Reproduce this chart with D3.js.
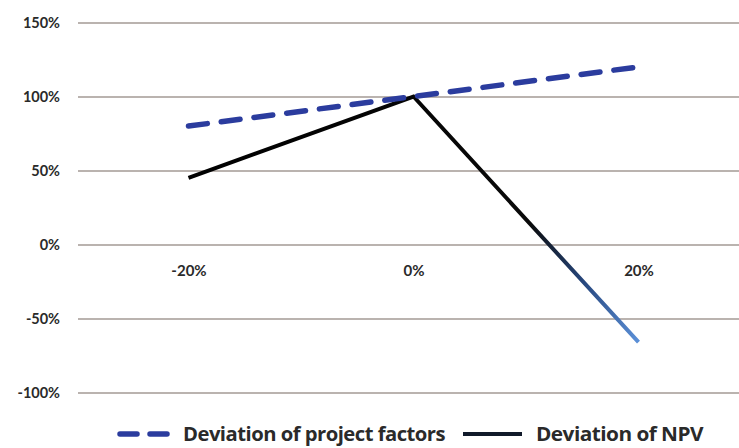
<!DOCTYPE html>
<html>
<head>
<meta charset="utf-8">
<script src="https://cdn.jsdelivr.net/npm/d3@7"></script>
<style>
  html, body { margin: 0; padding: 0; background: #fff; }
  svg { display: block; }
  text { font-family: Lato, "Open Sans", sans-serif; font-weight: 700; fill: #2a2a2a; }
</style>
</head>
<body>
<svg id="chart" width="739" height="448"></svg>
<script>
const categories = ["-20%", "0%", "20%"];
const projectFactors = [80, 100, 120];
const npv = [45, 100, -66];
const yTicks = [150, 100, 50, 0, -50, -100];
const seriesNames = ["Deviation of project factors", "Deviation of NPV"];

const W = 739, H = 448;
const svg = d3.select("#chart");

const x = d3.scalePoint().domain(categories).range([76, 751]).padding(0.5);
const y = d3.scaleLinear().domain([-100, 150]).range([392.5, 22.5]);

// gridlines
const yAxis = d3.axisLeft(y).tickValues(yTicks).tickSize(-(W - 78)).tickFormat(d => d + "%");
const gy = svg.append("g").attr("transform", "translate(78,0)").call(yAxis);
gy.select(".domain").remove();
gy.selectAll(".tick line").attr("stroke", "#a39a94").attr("stroke-width", 1.6);
gy.selectAll(".tick text").attr("x", -18).attr("font-size", 14.5).style("fill", "#2a2a2a");

// category axis labels (below zero line)
const xAxis = d3.axisBottom(x).tickSize(0).tickPadding(0);
const gx = svg.append("g").attr("transform", `translate(0,${y(0)})`).call(xAxis);
gx.select(".domain").remove();
gx.selectAll(".tick text").attr("dy", null).attr("y", 31).attr("font-size", 15).style("fill", "#2a2a2a");

// gradient for NPV line's last segment
const defs = svg.append("defs");
const grad = defs.append("linearGradient").attr("id", "npvGrad")
  .attr("gradientUnits", "userSpaceOnUse")
  .attr("x1", x(categories[0])).attr("y1", y(npv[0]))
  .attr("x2", x(categories[2])).attr("y2", y(npv[2]));
grad.append("stop").attr("offset", "0%").attr("stop-color", "#000");
grad.append("stop").attr("offset", "70%").attr("stop-color", "#0a0a0a");
grad.append("stop").attr("offset", "85%").attr("stop-color", "#27477e");
grad.append("stop").attr("offset", "100%").attr("stop-color", "#5b90d8");

const line = d3.line().x((d, i) => x(categories[i])).y(d => y(d));

svg.append("path").datum(npv).attr("d", line)
  .attr("fill", "none").attr("stroke", "url(#npvGrad)").attr("stroke-width", 4)
  .attr("stroke-linejoin", "miter");

svg.append("path").datum(projectFactors).attr("d", line)
  .attr("fill", "none").attr("stroke", "#2b3c9e").attr("stroke-width", 5.5)
  .attr("stroke-dasharray", "19,14").attr("stroke-linecap", "round");

// legend
const lg = svg.append("g");
lg.append("line").attr("x1", 120).attr("x2", 168).attr("y1", 434).attr("y2", 434)
  .attr("stroke", "#2b3c9e").attr("stroke-width", 5.5).attr("stroke-dasharray", "17,13").attr("stroke-linecap", "round");
lg.append("text").attr("x", 183).attr("y", 441).attr("font-size", 19.5)
  .style("font-family", "'Open Sans', sans-serif").style("letter-spacing", "-0.5px")
  .attr("textLength", 262).attr("lengthAdjust", "spacingAndGlyphs").text(seriesNames[0]);
lg.append("line").attr("x1", 463).attr("x2", 522).attr("y1", 434).attr("y2", 434)
  .attr("stroke", "#111a2a").attr("stroke-width", 4);
lg.append("text").attr("x", 536).attr("y", 441).attr("font-size", 19.5)
  .style("font-family", "'Open Sans', sans-serif").style("letter-spacing", "-0.5px")
  .attr("textLength", 167).attr("lengthAdjust", "spacingAndGlyphs").text(seriesNames[1]);
</script>
</body>
</html>
